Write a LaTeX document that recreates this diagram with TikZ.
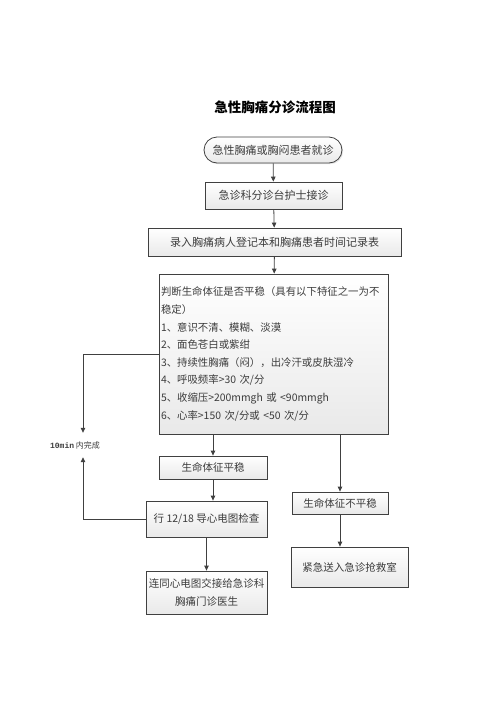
\documentclass[tikz,border=0pt]{standalone}
\usepackage{fontspec}
\setmainfont{Noto Sans CJK SC}
\setmonofont{Liberation Mono}
\usetikzlibrary{arrows.meta,shadows}
\definecolor{myline}{RGB}{64,64,64}
\definecolor{mytext}{RGB}{60,60,60}
\definecolor{myfill}{RGB}{233,233,233}
\tikzset{
  flowbox/.style={
    draw=myline,
    line width=0.8pt,
    top color=white,
    bottom color=myfill,
    drop shadow={shadow xshift=1.2pt,shadow yshift=-1.2pt,opacity=0.2},
    text=mytext,
    font=\fontsize{11}{17}\selectfont,
    inner sep=2pt,
    align=center,
  },
  startbox/.style={
    flowbox,
    rounded corners=13pt
  },
  smallbox/.style={
    flowbox,
    font=\fontsize{10.5}{18}\selectfont
  },
  flowarrow/.style={
    draw=myline,
    line width=0.8pt,
    -{Triangle[length=5pt,width=4.5pt]}
  }
}

\begin{document}
\begin{tikzpicture}[x=1pt,y=-1pt]
\useasboundingbox (0,0) rectangle (496,702);

\node[font=\fontsize{13.5}{16}\selectfont\bfseries] (title) at (275,107) {急性胸痛分诊流程图};

\node[startbox, minimum width=138pt, minimum height=26pt] (start) at (273,150) {急性胸痛或胸闷患者就诊};
\node[flowbox, minimum width=137pt, minimum height=27pt] (triage) at (273.5,195.5) {急诊科分诊台护士接诊};
\node[flowbox, minimum width=253pt, minimum height=28pt] (record) at (274.5,242) {录入胸痛病人登记本和胸痛患者时间记录表};

\node[flowbox, align=left, text width=225pt, minimum height=160pt,
  font=\fontsize{10.4}{17.6}\selectfont] (judge) at (273.5,354)
  {判断生命体征是否平稳（具有以下特征之一为不\\
   稳定）\\
   1、意识不清、模糊、淡漠\\
   2、面色苍白或紫绀\\
   3、持续性胸痛（闷），出冷汗或皮肤湿冷\\
   4、呼吸频率>30 次/分\\
   5、收缩压>200mmgh 或 <90mmgh\\
   6、心率>150 次/分或 <50 次/分};

\node[smallbox, minimum width=108pt, minimum height=23pt] (stable) at (213,467.5) {生命体征平稳};
\node[smallbox, minimum width=121pt, minimum height=36pt] (ecg) at (206.5,519) {行 12/18 导心电图检查};
\node[smallbox, minimum width=121pt, minimum height=43pt] (handover) at (206.5,592.5) {连同心电图交接给急诊科\\胸痛门诊医生};
\node[smallbox, minimum width=96pt, minimum height=22pt] (unstable) at (340,503) {生命体征不平稳};
\node[smallbox, minimum width=117pt, minimum height=40pt] (rescue) at (349.5,567) {紧急送入急诊抢救室};

\node[font=\fontsize{8}{9}\selectfont, text=mytext, minimum height=24pt, inner sep=0pt] (lbl) at (75,445) {\texttt{\bfseries 10min} 内完成};

\draw[flowarrow] (start) -- (triage);
\draw[flowarrow] (triage) -- (record);
\draw[flowarrow] (record) -- (judge);
\draw[flowarrow] (stable.north |- judge.south) -- (stable.north);
\draw[flowarrow] (unstable.north |- judge.south) -- (unstable.north);
\draw[flowarrow] (stable.south) -- (stable.south |- ecg.north);
\draw[flowarrow] (ecg) -- (handover);
\draw[flowarrow] (unstable.south) -- (unstable.south |- rescue.north);
\draw[flowarrow] (judge.west) -| ([xshift=8pt]lbl.north);
\draw[flowarrow] (ecg.west) -| ([xshift=8pt]lbl.south);

\end{tikzpicture}
\end{document}
